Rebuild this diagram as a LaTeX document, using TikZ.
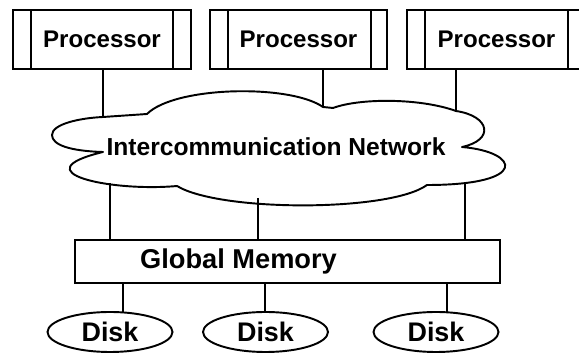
\documentclass[tikz,border=0pt]{standalone}
\usepackage{fontspec}
\setsansfont{Liberation Sans}
\usetikzlibrary{shapes.geometric}

\begin{document}
\begin{tikzpicture}[x=0.02cm, y=-0.02cm, line width=1.1pt,
	procbox/.style={draw, fill=white, shape=rectangle, minimum height=1.18cm, inner sep=0pt, font=\sffamily\bfseries\fontsize{13.7}{16}\selectfont},
	diskshape/.style={draw, shape=ellipse, minimum width=2.5cm, minimum height=0.8cm, inner sep=0pt, font=\sffamily\bfseries\fontsize{15.3}{18}\selectfont},
	cloudline/.style={draw, fill=white, line join=round}]
	\clip (0,0) rectangle (579,354);
	% Paths, nodes and wires:
	\node[procbox, minimum width=3.56cm](p1) at (102, 39.5){Processor};
	\node[procbox, minimum width=3.54cm](p2) at (298.5, 39.5){Processor};
	\node[procbox, minimum width=3.58cm](p3) at (496.5, 39.5){Processor};
	\draw ([xshift=0.37cm]p1.north west) -- ([xshift=0.37cm]p1.south west);
	\draw ([xshift=-0.37cm]p1.north east) -- ([xshift=-0.37cm]p1.south east);
	\draw ([xshift=0.37cm]p2.north west) -- ([xshift=0.37cm]p2.south west);
	\draw ([xshift=-0.34cm]p2.north east) -- ([xshift=-0.34cm]p2.south east);
	\draw ([xshift=0.37cm]p3.north west) -- ([xshift=0.37cm]p3.south west);
	\draw ([xshift=-0.38cm]p3.north east) -- ([xshift=-0.38cm]p3.south east);
	% the cloud
	\path[cloudline] (52,135) .. controls (52,124) and (80,118) .. (103,117) -- (147,114)
		.. controls (175,86) and (290,84) .. (323,107) -- (333,108)
		.. controls (360,98) and (420,98) .. (456,111)
		.. controls (490,116) and (495,140) .. (462,147)
		.. controls (520,152) and (530,185) .. (427,185)
		.. controls (390,212) and (220,212) .. (177,186)
		.. controls (110,192) and (20,172) .. (103,152)
		.. controls (70,151) and (52,145) .. (52,135) -- cycle;
	\node[font=\sffamily\bfseries\fontsize{14}{16}\selectfont](net) at (276, 147){Intercommunication Network};
	\coordinate (c1) at (103, 117);
	\coordinate (c2) at (323, 107);
	\coordinate (c3) at (456, 111);
	\coordinate (k1) at (110, 183);
	\coordinate (k2) at (258, 198);
	\coordinate (k3) at (465, 183);
	\draw (c1 |- p1.south) -- (c1);
	\draw (c2 |- p2.south) -- (c2);
	\draw (c3 |- p3.south) -- (c3);
	% memory and disks
	\node[draw, shape=rectangle, minimum width=8.5cm, minimum height=0.86cm](m) at (287.5, 261.5){};
	\node[font=\sffamily\bfseries\fontsize{15.5}{18}\selectfont](mtext) at (238.5, 261){Global Memory};
	\draw (k1) -- (k1 |- m.north);
	\draw (k2) -- (k2 |- m.north);
	\draw (k3) -- (k3 |- m.north);
	\node[diskshape](d1) at (110, 332){Disk};
	\node[diskshape](d2) at (265.5, 332){Disk};
	\node[diskshape](d3) at (436, 332){Disk};
	\coordinate (t1) at (123, 312);
	\coordinate (t2) at (265, 312);
	\coordinate (t3) at (447, 312.5);
	\draw (t1 |- m.south) -- (t1);
	\draw (t2 |- m.south) -- (t2);
	\draw (t3 |- m.south) -- (t3);
\end{tikzpicture}
\end{document}
